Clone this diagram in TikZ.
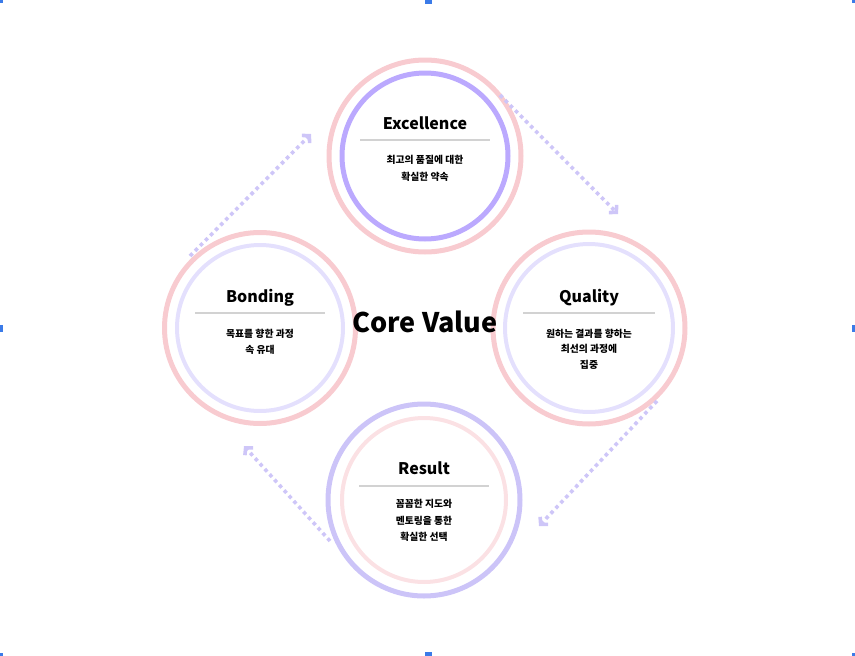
\documentclass[tikz,border=0pt]{standalone}
\usepackage{fontspec}
\setmainfont{Noto Sans CJK KR}
\usetikzlibrary{arrows.meta}

\definecolor{ringpink}{HTML}{F8CBD0}
\definecolor{ringviolet}{HTML}{BBA9FE}
\definecolor{ringlav}{HTML}{E4E0FD}
\definecolor{ringlilac}{HTML}{CCC4F8}
\definecolor{ringblush}{HTML}{FBE1E4}
\definecolor{flow}{HTML}{CEC6F8}
\definecolor{rulegray}{HTML}{D2D2D2}
\definecolor{handleblue}{HTML}{3B7BE8}

\begin{document}
\begin{tikzpicture}[x=1pt,y=-1pt,
  ring/.style={circle, draw=#1, inner sep=0pt, outer sep=0pt},
  headtext/.style={font=\bfseries\fontsize{16}{20}\selectfont, inner sep=0pt, anchor=base},
  bodytext/.style={font=\bfseries\fontsize{9.8}{16.5}\selectfont, align=center, inner sep=0pt, anchor=north},
  ruleline/.style={draw=rulegray, line width=1.2pt},
  flowarrow/.style={draw=flow, line width=3.6pt, dash pattern=on 3.6pt off 3.6pt,
    -{Straight Barb[length=5pt,width=11pt]}},
  handlebox/.style={fill=handleblue, draw=none}]

\useasboundingbox (0,0) rectangle (855,656);

% ---- rings ----
\node[ring=ringpink,   line width=5pt, minimum size=192pt] (exc)   at (425,156) {};
\node[ring=ringviolet, line width=5pt, minimum size=166pt] (excin) at (425,156) {};

\node[ring=ringpink, line width=5pt, minimum size=191pt] (bon)   at (260,328) {};
\node[ring=ringlav,  line width=4pt, minimum size=166pt] (bonin) at (260,328) {};

\node[ring=ringpink, line width=5pt, minimum size=192pt] (qua)   at (589,328) {};
\node[ring=ringlav,  line width=4pt, minimum size=168pt] (quain) at (589,328) {};

\node[ring=ringlilac, line width=5pt, minimum size=192pt] (res)   at (424,500) {};
\node[ring=ringblush, line width=4pt, minimum size=164pt] (resin) at (424,500) {};

% ---- flow arrows between the rings ----
\coordinate (f1s) at (190,256); \coordinate (f1e) at (311,134);
\coordinate (f2s) at (500,95);  \coordinate (f2e) at (618,214);
\coordinate (f3s) at (657,401); \coordinate (f3e) at (539,526);
\coordinate (f4s) at (330,541); \coordinate (f4e) at (244,446);
\draw[flowarrow] (f1s) -- (f1e);
\draw[flowarrow] (f2s) -- (f2e);
\draw[flowarrow] (f3s) -- (f3e);
\draw[flowarrow] (f4s) -- (f4e);

% ---- Excellence ----
\node[headtext] (excT) at ([yshift=27pt]exc.center) {Excellence};
\draw[ruleline] ([xshift=-65pt,yshift=16pt]exc.center) -- ([xshift=65pt,yshift=16pt]exc.center);
\node[bodytext] (excB) at ([yshift=0.5pt]exc.center) {최고의 품질에 대한\\확실한 약속};

% ---- Bonding ----
\node[headtext] (bonT) at ([yshift=26pt]bon.center) {Bonding};
\draw[ruleline] ([xshift=-65pt,yshift=15pt]bon.center) -- ([xshift=65pt,yshift=15pt]bon.center);
\node[bodytext] (bonB) at ([yshift=-0.5pt]bon.center) {목표를 향한 과정\\속 유대};

% ---- Quality ----
\node[headtext] (quaT) at ([yshift=26pt]qua.center) {Quality};
\draw[ruleline] ([xshift=-66pt,yshift=15pt]qua.center) -- ([xshift=66pt,yshift=15pt]qua.center);
\node[bodytext, font=\bfseries\fontsize{9.8}{15.5}\selectfont] (quaB) at ([yshift=-0.5pt]qua.center) {원하는 결과를 향하는\\최선의 과정에\\집중};

% ---- Result ----
\node[headtext] (resT) at ([yshift=26pt]res.center) {Result};
\draw[ruleline] ([xshift=-65pt,yshift=14pt]res.center) -- ([xshift=65pt,yshift=14pt]res.center);
\node[bodytext] (resB) at ([yshift=0.5pt]res.center) {꼼꼼한 지도와\\멘토링을 통한\\확실한 선택};

% ---- centre title ----
\node[font=\bfseries\fontsize{27}{32}\selectfont, inner sep=0pt, anchor=base] (core) at (425,332) {Core Value};

% ---- frame handles ----
\fill[handlebox] (0,0) rectangle (3,3);
\fill[handlebox] (425,0) rectangle (432,4);
\fill[handlebox] (852,0) rectangle (855,3);
\fill[handlebox] (0,325) rectangle (3,332);
\fill[handlebox] (852,325) rectangle (855,332);
\fill[handlebox] (0,653) rectangle (3,656);
\fill[handlebox] (425,652) rectangle (432,656);
\fill[handlebox] (852,653) rectangle (855,656);
\end{tikzpicture}
\end{document}
